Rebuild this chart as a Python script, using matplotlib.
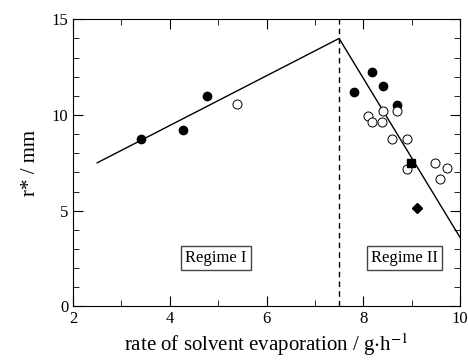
import numpy as np
import matplotlib
matplotlib.use("Agg")
import matplotlib.pyplot as plt

plt.rcParams.update({'font.family': 'Liberation Serif', 'mathtext.fontset': 'stix'})

# Regime I data
reg1_filled_x = [3.41, 4.27, 4.76]
reg1_filled_y = [8.75, 9.23, 10.99]
reg1_open_x = [5.39]
reg1_open_y = [10.57]

# Regime II data
reg2_filled_x = [7.80, 8.19, 8.40, 8.70]
reg2_filled_y = [11.22, 12.23, 11.50, 10.51]
reg2_open_x = [8.40, 8.70, 8.10, 8.19, 8.39, 8.59, 8.90, 8.90, 9.49, 9.73, 9.59]
reg2_open_y = [10.23, 10.21, 9.95, 9.62, 9.63, 8.73, 8.73, 7.19, 7.51, 7.21, 6.64]
square_x, square_y = [8.99], [7.51]
diamond_x, diamond_y = [9.10], [5.12]

# fit lines (two regimes meeting at the transition)
fit_x = [2.5, 7.5, 10.0]
fit_y = [7.5, 14.0, 3.6]
transition_x = 7.5

fig = plt.figure(figsize=(4.68, 3.61), dpi=100)
ax = fig.add_axes([0.156, 0.1515, 0.827, 0.795])

ax.plot(fit_x, fit_y, color='black', lw=1.0)
ax.axvline(transition_x, color='black', lw=1.0, ls=(0, (4, 3)))

ax.plot(reg1_filled_x, reg1_filled_y, 'o', color='black', ms=6)
ax.plot(reg2_filled_x, reg2_filled_y, 'o', color='black', ms=6)
ax.plot(reg1_open_x + reg2_open_x, reg1_open_y + reg2_open_y, 'o',
        mfc='white', mec='black', mew=0.7, ms=6.5)
ax.plot(square_x, square_y, 's', color='black', ms=6)
ax.plot(diamond_x, diamond_y, 'D', color='black', ms=5.5)

box = dict(boxstyle='square,pad=0.25', fc='white', ec='#444444', lw=1.0)
ax.text(4.95, 2.52, 'Regime I', ha='center', va='center', fontsize=12, bbox=box)
ax.text(8.85, 2.52, 'Regime II', ha='center', va='center', fontsize=12, bbox=box)

ax.set_xlim(2, 10)
ax.set_ylim(0, 15)
ax.set_xticks([2, 4, 6, 8, 10])
ax.set_xticks([3, 5, 7, 9], minor=True)
ax.set_yticks([0, 5, 10, 15])
ax.set_yticks(np.arange(0, 16, 1), minor=True)
ax.tick_params(which='both', direction='in', top=True, right=True, labelsize=12)
ax.tick_params(which='major', length=7)
ax.tick_params(which='minor', length=4)

ax.set_xlabel(r'rate of solvent evaporation / g$\cdot$h$^{-1}$', fontsize=15, labelpad=3)
ax.set_ylabel('r* / mm', fontsize=15, labelpad=8)

fig.savefig('out.png', dpi=100)
